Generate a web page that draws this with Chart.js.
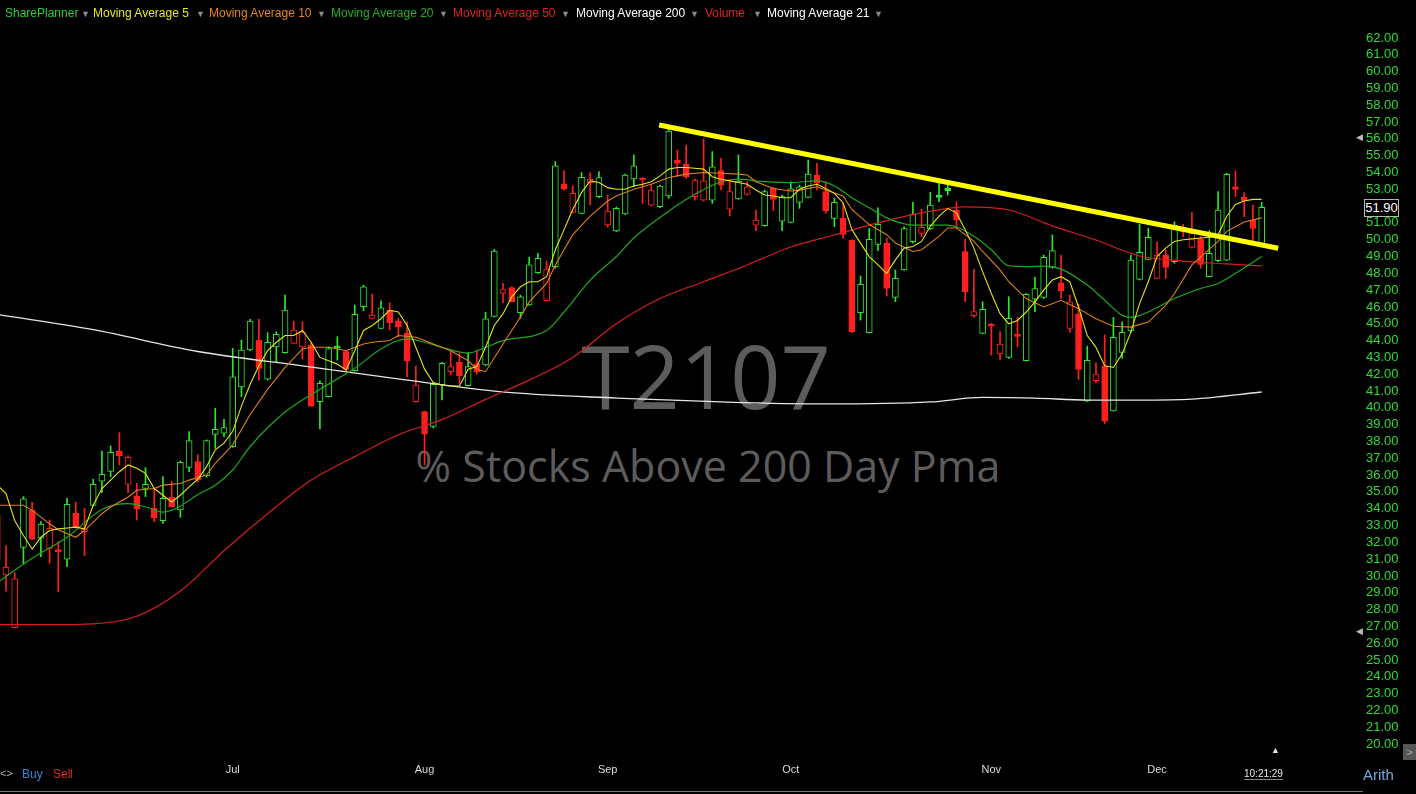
<!DOCTYPE html>
<html>
<head>
<meta charset="utf-8">
<title>T2107</title>
<script src="https://cdn.jsdelivr.net/npm/chart.js@4.4.1/dist/chart.umd.min.js"></script>
<style>
    html, body { margin: 0; padding: 0; background: #000; width: 1416px; height: 794px; overflow: hidden; }
    body { position: relative; font-family: "Liberation Sans", Arial, sans-serif; }
    #chartWrap { position: absolute; left: 0; top: 0; width: 1416px; height: 794px; z-index: 1; }
    .wm { position: absolute; color: #5c5c5c; white-space: nowrap; font-family: "Open Sans", sans-serif; line-height: 1; transform: translateX(-50%); z-index: 0; }
    .lg { position: absolute; top: 6px; font-size: 12px; line-height: 14px; white-space: nowrap; z-index: 2; }
    .dd { color: #8a8a8a; font-size: 9px; }
    .ui { position: absolute; white-space: nowrap; z-index: 2; }
</style>
</head>
<body>
<div class="wm" style="left:706px; top:331px; font-size:88px;">T2107</div>
<div class="wm" style="left:708px; top:444px; font-size:43px;">% Stocks Above 200 Day Pma</div>

<div id="chartWrap"><canvas id="t2107Chart" width="1416" height="794"></canvas></div>

<!-- indicator header -->
<span class="lg" style="left:5px; color:#33cc33;">SharePlanner</span><span class="lg dd" style="left:81px; top:7px;">&#9660;</span>
<span class="lg" style="left:93px; color:#e6e620;">Moving Average 5</span><span class="lg dd" style="left:196px; top:7px;">&#9660;</span>
<span class="lg" style="left:209px; color:#e8841f;">Moving Average 10</span><span class="lg dd" style="left:317px; top:7px;">&#9660;</span>
<span class="lg" style="left:331px; color:#22b022;">Moving Average 20</span><span class="lg dd" style="left:439px; top:7px;">&#9660;</span>
<span class="lg" style="left:453px; color:#dd2222;">Moving Average 50</span><span class="lg dd" style="left:561px; top:7px;">&#9660;</span>
<span class="lg" style="left:576px; color:#ffffff;">Moving Average 200</span><span class="lg dd" style="left:690px; top:7px;">&#9660;</span>
<span class="lg" style="left:705px; color:#dd2222;">Volume</span><span class="lg dd" style="left:753px; top:7px;">&#9660;</span>
<span class="lg" style="left:767px; color:#ffffff;">Moving Average 21</span><span class="lg dd" style="left:874px; top:7px;">&#9660;</span>

<!-- right side / bottom widgets -->
<div class="ui" style="left:1364px; top:199px; width:33px; height:16px; border:1px solid #b5b5b5; background:#000; color:#fff; font-size:13px; line-height:16px; text-align:center;">51.90</div>
<div class="ui" style="left:1356px; top:132px; color:#bdbdbd; font-size:9px;">&#9664;</div>
<div class="ui" style="left:1356px; top:626px; color:#bdbdbd; font-size:9px;">&#9664;</div>
<div class="ui" style="left:1271px; top:745px; color:#e0e0e0; font-size:9px;">&#9650;</div>
<div class="ui" style="left:1403px; top:744px; width:13px; height:16px; background:#555; color:#aaa; font-size:11px; line-height:16px; text-align:center;">&gt;</div>
<div class="ui" style="left:0px; top:767px; color:#aaa; font-size:11px;">&lt;&gt;</div>
<div class="ui" style="left:22px; top:767px; color:#3d85d8; font-size:12px;">Buy</div>
<div class="ui" style="left:53px; top:767px; color:#e02828; font-size:12px;">Sell</div>
<div class="ui" style="left:1244px; top:768px; color:#e8e8e8; font-size:10px; border-bottom:1px solid #888;">10:21:29</div>
<div class="ui" style="left:1363px; top:766px; color:#6fa8dc; font-size:15px;">Arith</div>
<div class="ui" style="left:0px; top:791px; width:1363px; height:1px; background:#777;"></div>

<script>
// Daily candles, first one is the partial candle at the left edge (day -1)
const FIRST_DAY = -1;
const opens = [33.6, 30.06, 26.92, 31.70, 33.92, 32.24, 31.64, 31.55, 30.99, 33.72,
    32.63, 34.20, 35.63, 36.22, 37.43, 35.45, 34.76, 35.21, 34.02, 33.29,
    34.68, 33.92, 36.46, 36.80, 35.97, 38.42, 38.49, 37.69, 41.25, 43.44,
    44.03, 41.71, 43.63, 43.28, 43.83, 43.63, 43.73, 40.36, 40.66, 43.65,
    43.34, 42.21, 46.01, 45.32, 44.72, 45.82, 45.18, 44.43, 40.36, 39.77,
    38.90, 41.36, 42.15, 42.71, 41.32, 42.61, 42.55, 45.43, 46.81, 47.15,
    45.66, 46.12, 48.04, 46.38, 48.40, 53.32, 51.63, 51.57, 53.40, 52.56,
    50.88, 50.52, 51.53, 53.61, 53.65, 52.06, 51.96, 52.60, 54.74, 54.50,
    52.56, 52.36, 52.36, 54.11, 51.81, 52.42, 52.70, 50.87, 50.83, 53.05,
    51.11, 51.03, 52.22, 52.52, 53.85, 52.86, 51.27, 51.27, 49.98, 45.66,
    44.47, 49.72, 49.78, 46.57, 48.20, 49.88, 50.38, 50.64, 52.62, 53.05,
    51.77, 49.29, 45.48, 44.43, 44.97, 43.20, 43.00, 44.35, 42.80, 46.47,
    46.57, 48.35, 47.44, 44.73, 45.58, 40.40, 41.61, 42.50, 39.81, 43.30,
    44.57, 47.64, 48.83, 47.70, 49.09, 48.69, 50.70, 49.54, 50.02, 47.80,
    48.75, 48.79, 53.15, 52.52, 51.17, 49.78];
const highs = [33.9, 31.80, 30.20, 34.72, 34.38, 33.23, 33.33, 32.04, 34.62, 34.38,
    34.02, 35.75, 37.43, 37.73, 38.52, 37.14, 35.51, 36.44, 35.17, 35.91,
    35.61, 36.84, 38.58, 37.20, 38.09, 39.97, 39.32, 43.53, 44.03, 45.26,
    45.26, 44.47, 44.53, 46.71, 45.16, 45.12, 43.90, 41.60, 43.63, 44.23,
    43.40, 46.11, 47.30, 46.77, 46.37, 46.25, 45.32, 45.12, 42.48, 39.80,
    41.50, 42.70, 43.34, 43.24, 43.28, 43.44, 45.68, 49.43, 47.41, 47.20,
    46.70, 48.96, 49.19, 48.74, 54.65, 54.11, 53.20, 53.99, 53.99, 54.05,
    52.66, 51.95, 53.91, 55.04, 53.70, 53.25, 53.25, 56.56, 55.34, 55.63,
    53.60, 55.99, 55.24, 54.84, 53.45, 55.04, 53.45, 51.77, 52.96, 53.10,
    52.66, 53.45, 53.25, 54.74, 54.54, 53.45, 52.46, 52.16, 50.00, 47.84,
    50.67, 51.90, 50.08, 48.20, 50.77, 52.22, 51.81, 52.82, 53.35, 53.25,
    52.26, 50.02, 48.24, 46.31, 45.02, 44.53, 46.61, 45.38, 46.80, 47.76,
    49.09, 50.28, 49.09, 46.71, 46.17, 43.67, 42.68, 44.33, 45.38, 45.12,
    49.09, 50.93, 50.67, 49.88, 49.39, 51.07, 50.91, 51.61, 50.18, 50.54,
    52.86, 53.95, 54.09, 52.80, 52.06, 52.22];
const lows = [30.6, 29.10, 26.90, 30.71, 32.15, 31.15, 30.75, 29.07, 30.55, 32.85,
    31.21, 34.18, 34.95, 35.90, 36.60, 34.95, 33.33, 34.72, 33.23, 33.13,
    34.10, 33.49, 36.20, 35.57, 35.87, 37.59, 38.29, 37.65, 40.66, 43.40,
    41.65, 41.65, 42.74, 43.25, 43.80, 42.90, 40.08, 38.74, 40.64, 42.84,
    42.20, 42.19, 45.78, 45.30, 44.70, 44.63, 44.23, 41.85, 40.34, 36.60,
    38.80, 40.47, 41.96, 41.46, 41.30, 42.00, 42.50, 45.40, 46.26, 46.30,
    45.33, 46.10, 48.00, 46.36, 48.30, 52.95, 51.60, 51.55, 52.07, 52.50,
    50.74, 50.48, 51.50, 53.15, 52.16, 52.00, 51.90, 52.46, 53.75, 53.65,
    52.36, 52.30, 52.16, 52.96, 51.41, 52.40, 52.66, 50.54, 50.80, 51.73,
    50.54, 51.00, 51.87, 52.50, 52.96, 51.57, 50.77, 50.08, 44.47, 45.22,
    44.45, 49.35, 46.65, 46.31, 48.18, 49.80, 50.18, 50.60, 52.26, 52.66,
    50.67, 46.31, 45.40, 44.40, 43.14, 42.88, 42.94, 43.63, 42.78, 45.72,
    46.50, 48.30, 46.51, 44.49, 41.69, 40.38, 41.49, 39.07, 39.80, 42.94,
    44.50, 47.60, 48.80, 47.68, 47.70, 48.60, 50.20, 49.50, 48.30, 47.78,
    48.70, 48.75, 52.56, 51.37, 49.78, 49.76];
const closes = [31.0, 30.51, 29.82, 34.58, 32.18, 33.09, 32.83, 31.45, 34.26, 32.87,
    32.79, 35.45, 36.04, 37.35, 37.16, 37.06, 33.98, 35.45, 33.47, 34.62,
    34.12, 36.76, 38.05, 35.71, 38.05, 38.72, 38.82, 41.85, 43.44, 45.16,
    42.35, 43.89, 44.37, 45.82, 44.63, 44.50, 40.10, 41.45, 43.53, 43.55,
    42.29, 45.56, 47.20, 45.52, 45.95, 45.06, 44.82, 42.80, 41.35, 38.44,
    41.40, 42.65, 42.45, 41.90, 42.45, 42.15, 45.29, 49.33, 47.07, 46.32,
    46.61, 48.50, 48.90, 48.26, 54.39, 53.00, 52.76, 53.71, 53.59, 53.69,
    51.71, 51.87, 53.85, 54.40, 53.55, 52.96, 53.19, 56.47, 54.54, 53.75,
    53.55, 53.50, 54.34, 53.25, 52.86, 53.49, 53.15, 51.17, 52.86, 52.40,
    52.56, 53.02, 53.15, 53.91, 53.39, 51.73, 52.22, 50.32, 44.53, 47.34,
    50.02, 50.91, 47.11, 47.70, 50.67, 51.51, 50.73, 52.06, 52.52, 52.90,
    51.17, 46.91, 45.72, 45.86, 44.85, 43.79, 45.32, 44.25, 46.75, 47.10,
    48.95, 49.35, 46.97, 46.31, 42.29, 42.82, 42.00, 39.21, 44.19, 44.49,
    48.79, 49.25, 50.14, 49.09, 48.35, 50.87, 50.50, 50.38, 48.53, 49.19,
    51.77, 53.89, 52.99, 52.32, 50.67, 51.92];

// Moving averages (day index, value)
const ma5Days = [-1, 0, 1, 2, 3, 4, 5, 6, 7, 8, 9, 10, 11, 12, 13, 14, 15, 16, 17, 18, 19, 20,
    21, 22, 23, 24, 25, 26, 27, 28, 29, 30, 31, 32, 33, 34, 35, 36, 37, 38, 39, 40, 41, 42,
    43, 44, 45, 46, 47, 48, 49, 50, 51, 52, 53, 54, 55, 56, 57, 58, 59, 60, 61, 62, 63, 64,
    65, 66, 67, 68, 69, 70, 71, 72, 73, 74, 75, 76, 77, 78, 79, 80, 81, 82, 83, 84, 85, 86,
    87, 88, 89, 90, 91, 92, 93, 94, 95, 96, 97, 98, 99, 100, 101, 102, 103, 104, 105, 106,
    107, 108, 109, 110, 111, 112, 113, 114, 115, 116, 117, 118, 119, 120, 121, 122, 123, 124,
    125, 126, 127, 128, 129, 130, 131, 132, 133, 134, 135, 136, 137, 138, 139, 140, 141, 142,
    143, 144];
const ma5Vals = [35.4, 34.9, 33.3, 32.4, 31.6, 32.3, 32.7, 32.8, 32.85, 32.9, 32.8, 34.2,
    35.2, 35.7, 36.2, 36.6, 36.4, 36.1, 35.2, 34.8, 34.4, 34.8, 35.3, 35.75, 36.5, 37.5,
    37.9, 38.6, 40.1, 41.4, 42.5, 43.4, 43.9, 44.3, 44.3, 44.6, 43.9, 43.0, 42.8, 42.6,
    42.25, 43.4, 44.6, 44.9, 45.3, 45.8, 45.7, 44.9, 43.6, 42.3, 41.5, 41.35, 41.3, 41.3,
    42.3, 42.45, 43.6, 44.9, 45.6, 46.6, 47.2, 47.5, 47.5, 47.8, 49.4, 50.6, 51.8, 52.8,
    53.5, 53.4, 53.1, 53.0, 53.0, 53.2, 53.3, 53.45, 53.8, 54.2, 54.3, 54.3, 54.25, 54.2,
    53.75, 53.6, 53.5, 53.4, 53.3, 52.96, 52.66, 52.6, 52.5, 52.5, 53.0, 53.2, 53.3, 53.05,
    52.76, 52.2, 50.6, 49.8, 49.0, 48.5, 48.0, 48.8, 49.5, 49.6, 49.9, 50.8, 51.4, 51.85,
    51.6, 50.6, 49.5, 48.1, 46.8, 45.6, 45.0, 45.2, 45.7, 46.3, 47.0, 47.6, 47.8, 47.5,
    46.0, 44.3, 43.6, 42.5, 42.4, 43.2, 44.5, 46.2, 47.5, 49.0, 49.5, 49.9, 50.0, 50.05,
    50.1, 50.15, 50.3, 51.4, 52.1, 52.3, 52.4, 52.4];
const ma10Days = [-1, 2, 3, 5, 6, 8, 9, 11, 12, 14, 15, 17, 18, 20, 21, 23, 24, 26, 28, 30,
    32, 34, 35, 37, 39, 41, 42, 44, 45, 47, 48, 49, 51, 53, 54, 55, 57, 59, 60, 62, 63, 64,
    65, 67, 69, 70, 72, 74, 76, 78, 80, 82, 84, 85, 86, 88, 90, 91, 93, 94, 96, 97, 99, 101,
    102, 104, 105, 107, 108, 109, 110, 111, 112, 114, 115, 117, 119, 121, 123, 125, 127, 129,
    131, 133, 134, 136, 139, 140, 142, 144];
const ma10Vals = [34.2, 34.2, 33.9, 33.1, 32.75, 32.3, 32.7, 33.7, 34.1, 34.7, 35.1, 35.2,
    35.4, 35.5, 35.7, 36.0, 36.7, 37.8, 39.6, 41.1, 42.4, 43.5, 43.6, 43.6, 43.4, 43.8, 43.9,
    44.0, 44.3, 44.2, 44.0, 43.8, 43.4, 42.8, 42.3, 42.15, 43.8, 45.4, 46.3, 47.4, 48.5, 49.4,
    50.3, 51.4, 52.3, 52.6, 53.0, 53.3, 53.7, 53.9, 54.0, 53.95, 53.9, 53.85, 53.45, 53.05,
    52.9, 52.95, 53.15, 52.96, 52.6, 51.8, 50.9, 50.3, 49.8, 49.3, 49.4, 50.2, 50.7, 50.7,
    50.3, 49.9, 49.3, 48.2, 47.5, 46.5, 46.0, 46.4, 45.9, 45.3, 44.85, 44.8, 45.1, 46.1,
    46.8, 48.5, 49.9, 50.5, 51.05, 51.3];
const ma20Days = [-1, 3, 7, 11, 14, 16, 18, 20, 22, 24, 26, 28, 32, 36, 40, 43, 46, 48, 50,
    53, 55, 57, 62, 64, 67, 70, 72, 76, 79, 82, 84, 87, 90, 93, 95, 97, 99, 101, 104, 108,
    111, 113, 115, 117, 119, 121, 124, 126, 128, 129, 131, 134, 137, 139, 141, 144];
const ma20Vals = [29.6, 31.05, 32.3, 33.95, 34.3, 34.1, 33.8, 34.15, 34.85, 35.4, 36.3,
    37.7, 39.75, 41.1, 42.35, 43.5, 44.1, 43.9, 43.6, 43.25, 43.6, 44.0, 44.6, 45.7, 47.6,
    49.0, 50.1, 51.7, 52.7, 53.45, 53.6, 53.45, 53.4, 53.5, 53.2, 52.5, 51.9, 51.3, 50.87,
    50.87, 50.2, 49.4, 48.45, 48.4, 48.43, 48.25, 47.3, 46.4, 45.5, 45.38, 45.7, 46.5, 47.1,
    47.4, 48.0, 49.0];
const ma50Days = [-1, 5, 10, 15, 20, 25, 30, 35, 40, 45, 50, 55, 60, 65, 70, 75, 80, 85, 90,
    95, 100, 105, 110, 115, 120, 125, 130, 135, 140, 144];
const ma50Vals = [27.1, 27.1, 27.15, 27.6, 29.1, 31.5, 33.7, 35.7, 37.1, 38.4, 39.3, 40.5,
    41.65, 43.0, 45.0, 46.5, 47.5, 48.5, 49.57, 50.28, 51.0, 51.6, 51.95, 51.77, 50.82, 49.98,
    49.03, 48.73, 48.56, 48.44];
const ma200Days = [-1, 10, 22, 34, 46, 58, 70, 82, 94, 106, 112, 118, 124, 130, 136, 144];
const ma200Vals = [45.55, 44.65, 43.35, 42.5, 41.65, 40.9, 40.58, 40.35, 40.23, 40.35, 40.62,
    40.58, 40.46, 40.46, 40.52, 40.94];

// Hand drawn resistance line (two anchor points)
const trendDays = [74.9, 145.9];
const trendVals = [56.82, 49.49];

// Axis labels
const monthDays = [26, 48, 69, 90, 113, 132];
const monthNames = ['Jul', 'Aug', 'Sep', 'Oct', 'Nov', 'Dec'];
const yTickValues = [20, 21, 22, 23, 24, 25, 26, 27, 28, 29, 30, 31, 32, 33, 34, 35, 36, 37,
    38, 39, 40, 41, 42, 43, 44, 45, 46, 47, 48, 49, 50, 51, 52, 53, 54, 55, 56, 57, 58, 59,
    60, 61, 62];

const UP = '#2ee62e';
const DOWN = '#ff1f1f';

// green = close above prior close, hollow = close above open
const candleColor = closes.map((c, i) => (i === 0 ? c < opens[i] : c < closes[i - 1]) ? DOWN : UP);
const hollow = closes.map((c, i) => c > opens[i]);

const pairs = (days, vals) => days.map((d, i) => ({ x: d, y: vals[i] }));

const lineSet = (label, days, vals, color, width, order, smooth) => ({
    type: 'line',
    label: label,
    data: pairs(days, vals),
    borderColor: color,
    borderWidth: width,
    pointRadius: 0,
    fill: false,
    order: order,
    tension: smooth ? 0.4 : 0,
    cubicInterpolationMode: smooth ? 'monotone' : 'default'
});

const ctx = document.getElementById('t2107Chart');
if (ctx) {
    new Chart(ctx.getContext('2d'), {
        type: 'bar',
        data: {
            datasets: [
                {
                    label: 'wick',
                    data: closes.map((c, i) => ({ x: i + FIRST_DAY, y: [lows[i], highs[i]] })),
                    backgroundColor: candleColor,
                    borderWidth: 0,
                    barThickness: 1,
                    grouped: false,
                    order: 20
                },
                {
                    label: 'body',
                    data: closes.map((c, i) => ({ x: i + FIRST_DAY, y: [opens[i], c] })),
                    backgroundColor: candleColor.map((col, i) => hollow[i] ? '#000000' : col),
                    borderColor: candleColor,
                    borderWidth: 1,
                    borderSkipped: false,
                    barThickness: 6,
                    minBarLength: 2,
                    grouped: false,
                    order: 19
                },
                lineSet('Moving Average 200', ma200Days, ma200Vals, '#e6e6e6', 1.3, 6, true),
                lineSet('Moving Average 50', ma50Days, ma50Vals, '#d41f1f', 1.2, 5, true),
                lineSet('Moving Average 20', ma20Days, ma20Vals, '#1fa81f', 1.2, 4, true),
                lineSet('Moving Average 10', ma10Days, ma10Vals, '#e0801c', 1.1, 3, false),
                lineSet('Moving Average 5', ma5Days, ma5Vals, '#e4e41c', 1.1, 2, false),
                lineSet('trend', trendDays, trendVals, '#ffff00', 5, 1, false)
            ]
        },
        options: {
            responsive: false,
            animation: false,
            devicePixelRatio: 1,
            layout: { padding: { top: 25, left: 0, right: 0, bottom: 0 } },
            plugins: { legend: { display: false }, tooltip: { enabled: false } },
            scales: {
                x: {
                    type: 'linear',
                    min: -0.688,
                    max: 155.05,
                    offset: false,
                    grid: { display: false, drawTicks: false },
                    border: { display: false },
                    ticks: {
                        color: '#dadada',
                        font: { family: 'Liberation Sans', size: 11 },
                        padding: 3,
                        autoSkip: false,
                        maxRotation: 0,
                        callback: (v, i) => monthNames[i]
                    },
                    afterBuildTicks: (axis) => { axis.ticks = monthDays.map(v => ({ value: v })); },
                    afterFit: (axis) => { axis.height = 34; }
                },
                y: {
                    type: 'linear',
                    position: 'right',
                    min: 19.05,
                    max: 62.773,
                    grid: { display: false, drawTicks: false },
                    border: { display: false },
                    ticks: {
                        color: '#33d933',
                        font: { family: 'Liberation Sans', size: 13 },
                        padding: 8,
                        autoSkip: false,
                        callback: (v) => Number(v).toFixed(2)
                    },
                    afterBuildTicks: (axis) => { axis.ticks = yTickValues.map(v => ({ value: v })); },
                    afterFit: (axis) => { axis.width = 58; }
                }
            }
        }
    });
} else {
    console.error("t2107Chart canvas not found.");
}
</script>
</body>
</html>
